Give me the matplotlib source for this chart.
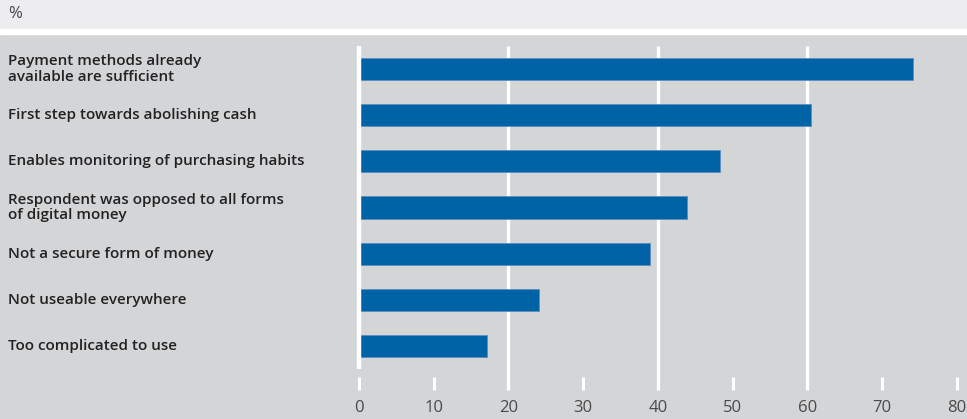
import matplotlib
matplotlib.use("Agg")
import matplotlib.pyplot as plt
from matplotlib.patches import Rectangle

# reasons for not using digital money, % of respondents
LABELS = [
    "Payment methods already\navailable are sufficient",
    "First step towards abolishing cash",
    "Enables monitoring of purchasing habits",
    "Respondent was opposed to all forms\nof digital money",
    "Not a secure form of money",
    "Not useable everywhere",
    "Too complicated to use",
]
VALUES = [74.2, 60.5, 48.3, 43.9, 39.0, 24.1, 17.1]
TICKS = [0, 10, 20, 30, 40, 50, 60, 70, 80]
GRID = [20, 40, 60]

W, H = 967, 419
BG = "#d4d5d7"
TOP = "#ededef"
BLUE = "#0063a5"

plt.rcParams["font.family"] = ["Open Sans", "DejaVu Sans"]

fig = plt.figure(figsize=(W / 100, H / 100), dpi=100, facecolor=BG)

# top band with unit and white separator
fig.patches.append(Rectangle((0, 1 - 29 / H), 1, 29 / H, transform=fig.transFigure,
                             color=TOP, zorder=0))
fig.patches.append(Rectangle((0, 1 - 34 / H), 1, 5 / H, transform=fig.transFigure,
                             color="white", zorder=0))
fig.text(8 / W, 1 - 14 / H, "%", fontsize=12, color="#444444", va="center")

# axes spans the gray area right of the labels
x0_px, px_per = 359, 7.47
ax_left = 355
ax = fig.add_axes([ax_left / W, 0, 1 - ax_left / W, 1 - 34 / H])
ax.set_facecolor(BG)
ax.set_xlim((ax_left - x0_px) / px_per, (W - x0_px) / px_per)
row0, row_h = 69, 46.17
ax.set_ylim((H - row0) / row_h, (34 - row0) / row_h)
ax.axis("off")

n = len(VALUES)
ys = list(range(n))
ax.vlines(GRID, -0.5, 6.95, color="white", lw=2.4, zorder=1)
ax.barh(ys, VALUES, height=0.48, color=BLUE, edgecolor="#5b8fc0",
        lw=0.6, zorder=2)
ax.vlines(0, -0.5, 6.5, color="white", lw=3.2, zorder=3)

# ticks and tick labels
ax.vlines([t for t in TICKS if t not in GRID], 6.67, 6.95, color="white", lw=2.2,
          zorder=1)
for t in TICKS:
    ax.text(t, 7.35, str(t), ha="center", va="center", fontsize=12,
            color="#4a4a4a")

# category labels
for y, lab in zip(ys, LABELS):
    ypx = row0 + row_h * y
    fig.text(8 / W, 1 - ypx / H, lab, fontsize=11, fontweight="semibold",
             color="#222222", va="center", ha="left", linespacing=1.12)

fig.savefig("out.png", dpi=100, facecolor=BG)
